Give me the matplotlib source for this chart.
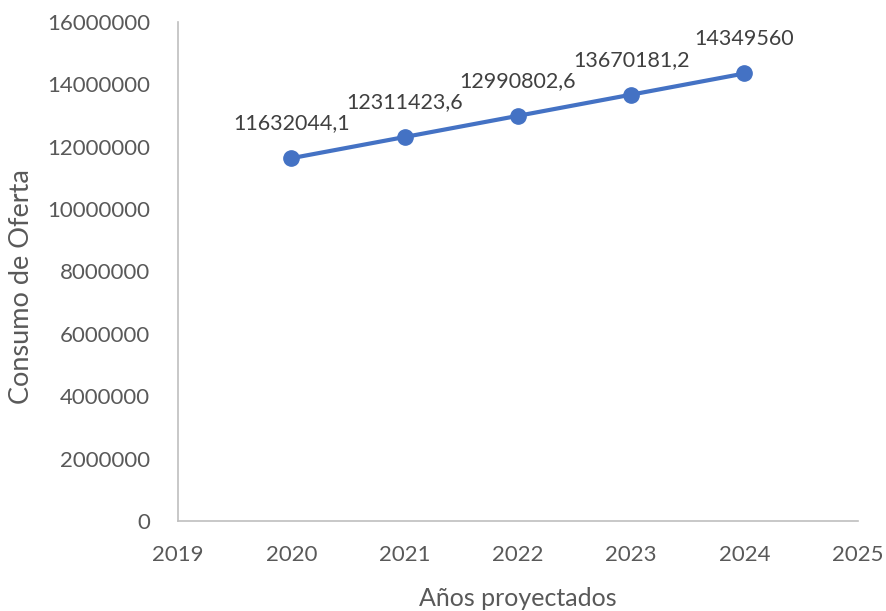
import matplotlib.pyplot as plt
import matplotlib.ticker as mticker

years = [2020, 2021, 2022, 2023, 2024]
consumo = [11632044.1, 12311423.6, 12990802.6, 13670181.2, 14349560]
labels = ["11632044,1", "12311423,6", "12990802,6", "13670181,2", "14349560"]

plt.rcParams['font.family'] = ['Lato', 'DejaVu Sans']

fig = plt.figure(figsize=(8.87, 6.11), dpi=100)
ax = fig.add_axes([0.2007, 0.1473, 0.7663, 0.8167])

ax.plot(years, consumo, color='#4472C4', linewidth=3, marker='o', markersize=11,
        markerfacecolor='#4472C4', markeredgecolor='#4472C4', zorder=3)
for x, y, t in zip(years, consumo, labels):
    ax.annotate(t, (x, y), xytext=(0, 25), textcoords='offset points', ha='center', va='center',
                fontsize=15.5, color='#404040')

ax.set_xlim(2019, 2025)
ax.set_ylim(0, 16000000)
ax.set_xticks(range(2019, 2026))
ax.set_yticks(range(0, 16000001, 2000000))
ax.yaxis.set_major_formatter(mticker.FuncFormatter(lambda v, p: f"{int(v)}"))

for s in ['top', 'right']:
    ax.spines[s].set_visible(False)
for s in ['left', 'bottom']:
    ax.spines[s].set_color('#BFBFBF')
    ax.spines[s].set_linewidth(1.2)

ax.tick_params(length=0, labelsize=16, labelcolor='#595959')
ax.tick_params(axis='y', pad=20)
ax.tick_params(axis='x', pad=17)
ax.set_xlabel("Años proyectados", fontsize=18, color='#595959')
ax.set_ylabel("Consumo de Oferta", fontsize=19.5, color='#595959')
ax.xaxis.set_label_coords(0.5, -0.133)
ax.yaxis.set_label_coords(-0.212, 0.47)

fig.savefig("out.png", dpi=100)
